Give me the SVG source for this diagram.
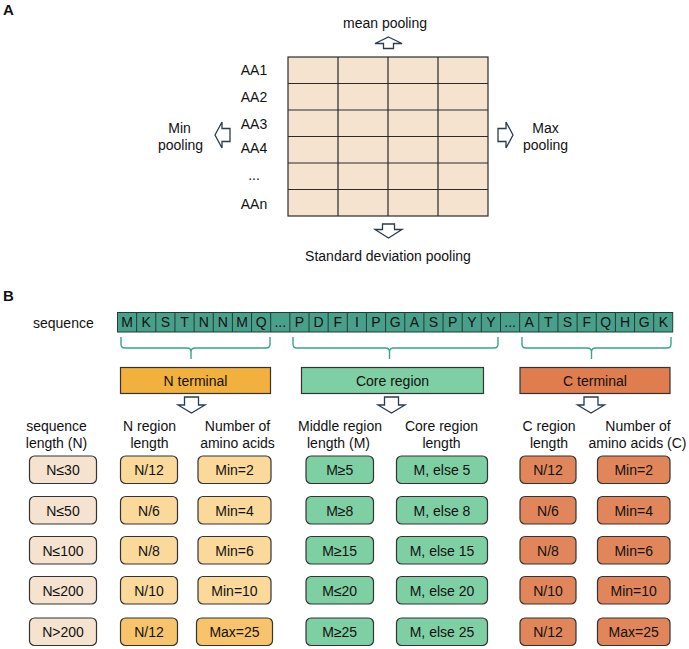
<svg xmlns="http://www.w3.org/2000/svg" xmlns:xlink="http://www.w3.org/1999/xlink" width="689" height="649" viewBox="0 0 689 649">
  <style>
    text { font-family: "Liberation Sans", Arial, sans-serif; font-size: 14px; fill: #111; }
    .panel { font-weight: bold; font-size: 15px; }
    .mid { text-anchor: middle; }
    .grid { fill: #f5e3d0; stroke: #2b2b2b; stroke-width: 1.2; }
    .gline { stroke: #2b2b2b; stroke-width: 1.2; fill: none; }
    .blk { fill: #ffffff; stroke: #2a3b4d; stroke-width: 1.3; stroke-linejoin: miter; }
    .cell { fill: #48a08b; stroke: #1e3d36; stroke-width: 1; }
    .brace { fill: none; stroke: #3aa38a; stroke-width: 1.4; }
    .hdr { stroke: #333; stroke-width: 1.2; }
    .box { stroke: #333; stroke-width: 1.2; }
    .beige { fill: #f5e3d0; }
    .lorange { fill: #fbd99b; }
    .dorange { fill: #f7c46c; }
    .green { fill: #7ecfa3; }
    .coral { fill: #e0865a; }
  </style>
  <defs>
    <!-- hollow block arrow pointing down, centred on x=0 -->
    <polygon id="downArrow" class="blk" points="-7,0 7,0 7,8 13.5,8 0,16 -13.5,8 -7,8"/>
  </defs>

  <!-- Panel A -->
  <text class="panel" x="3" y="15">A</text>

  <g id="embedding-matrix">
    <rect class="grid" x="288" y="57" width="200" height="159"/>
    <path class="gline" d="M338,57V216M388,57V216M438,57V216M288,83.5H488M288,110H488M288,136.5H488M288,163H488M288,189.5H488"/>
  </g>

  <g id="row-labels">
    <text class="mid" x="254" y="75">AA1</text>
    <text class="mid" x="254" y="102">AA2</text>
    <text class="mid" x="254" y="128.5">AA3</text>
    <text class="mid" x="254" y="153">AA4</text>
    <text class="mid" x="254" y="180">...</text>
    <text class="mid" x="254" y="209">AAn</text>
  </g>

  <g id="mean-pooling">
    <text class="mid" x="385" y="27.5">mean pooling</text>
  </g>
  <g id="std-pooling">
    <text class="mid" x="388" y="261">Standard deviation pooling</text>
  </g>
  <g id="min-pooling">
    <text class="mid" x="179.5" y="132.5">Min</text>
    <text class="mid" x="180.5" y="150">pooling</text>
  </g>
  <g id="max-pooling">
    <text class="mid" x="545.5" y="132.5">Max</text>
    <text class="mid" x="545.5" y="150">pooling</text>
  </g>

  <g id="pooling-arrows">
    <polygon class="blk" points="388.5,37 402,43.5 393.5,43.5 393.5,48.5 383.5,48.5 383.5,43.5 375,43.5"/>
    <polygon class="blk" points="382.5,224 394.5,224 394.5,229.5 402,229.5 388.5,238 375,229.5 382.5,229.5"/>
    <polygon class="blk" points="215,135 222,122 222,128.5 230,128.5 230,141.5 222,141.5 222,148"/>
    <polygon class="blk" points="513,135 506,122 506,128.5 498,128.5 498,141.5 506,141.5 506,148"/>
  </g>

  <!-- Panel B -->
  <text class="panel" x="3" y="301">B</text>

  <g id="sequence">
    <text x="33" y="327.5">sequence</text>
    <g id="seq-cells">
      <rect class="cell" x="117.5" y="312.5" width="555.2" height="19.5"/>
      <path class="gline" style="stroke:#1e3d36;stroke-width:1" d="M136.65,312.5v19.5M155.8,312.5v19.5M174.95,312.5v19.5M194.1,312.5v19.5M213.25,312.5v19.5M232.4,312.5v19.5M251.55,312.5v19.5M270.7,312.5v19.5M289.85,312.5v19.5M309,312.5v19.5M328.15,312.5v19.5M347.3,312.5v19.5M366.45,312.5v19.5M385.6,312.5v19.5M404.75,312.5v19.5M423.9,312.5v19.5M443.05,312.5v19.5M462.2,312.5v19.5M481.35,312.5v19.5M500.5,312.5v19.5M519.65,312.5v19.5M538.8,312.5v19.5M557.95,312.5v19.5M577.1,312.5v19.5M596.25,312.5v19.5M615.4,312.5v19.5M634.55,312.5v19.5M653.7,312.5v19.5"/>
    </g>
    <g class="mid">
      <text class="mid" x="127.1" y="327.3">M</text>
      <text class="mid" x="146.2" y="327.3">K</text>
      <text class="mid" x="165.4" y="327.3">S</text>
      <text class="mid" x="184.5" y="327.3">T</text>
      <text class="mid" x="203.7" y="327.3">N</text>
      <text class="mid" x="222.8" y="327.3">N</text>
      <text class="mid" x="242" y="327.3">M</text>
      <text class="mid" x="261.1" y="327.3">Q</text>
      <text class="mid" x="280.3" y="327.3">...</text>
      <text class="mid" x="299.4" y="327.3">P</text>
      <text class="mid" x="318.6" y="327.3">D</text>
      <text class="mid" x="337.7" y="327.3">F</text>
      <text class="mid" x="356.9" y="327.3">I</text>
      <text class="mid" x="376" y="327.3">P</text>
      <text class="mid" x="395.2" y="327.3">G</text>
      <text class="mid" x="414.3" y="327.3">A</text>
      <text class="mid" x="433.5" y="327.3">S</text>
      <text class="mid" x="452.6" y="327.3">P</text>
      <text class="mid" x="471.8" y="327.3">Y</text>
      <text class="mid" x="490.9" y="327.3">Y</text>
      <text class="mid" x="510.1" y="327.3">...</text>
      <text class="mid" x="529.2" y="327.3">A</text>
      <text class="mid" x="548.4" y="327.3">T</text>
      <text class="mid" x="567.5" y="327.3">S</text>
      <text class="mid" x="586.7" y="327.3">F</text>
      <text class="mid" x="605.8" y="327.3">Q</text>
      <text class="mid" x="625" y="327.3">H</text>
      <text class="mid" x="644.1" y="327.3">G</text>
      <text class="mid" x="663.3" y="327.3">K</text>
    </g>
  </g>

  <g id="connectors">
    <path class="brace" d="M121,337V344Q121,348 125,348H187Q191,348 191,352V359M191,352Q191,348 195,348H266Q270,348 270,344V337"/>
    <path class="brace" d="M293,337V344Q293,348 297,348H385.5Q389.5,348 389.5,352V359M389.5,352Q389.5,348 393.5,348H494Q498,348 498,344V337"/>
    <path class="brace" d="M522,337V344Q522,348 526,348H587.5Q591.5,348 591.5,352V359M591.5,352Q591.5,348 595.5,348H667Q671,348 671,344V337"/>
    <use xlink:href="#downArrow" href="#downArrow" x="191.5" y="397"/>
    <use xlink:href="#downArrow" href="#downArrow" x="391.5" y="397"/>
    <use xlink:href="#downArrow" href="#downArrow" x="591" y="397"/>
  </g>

  <g id="n-terminal">
    <rect class="hdr" x="120.5" y="367.5" width="150" height="26" fill="#f2b03c"/>
    <text class="mid" x="195.5" y="385.5">N terminal</text>
  </g>
  <g id="core-region">
    <rect class="hdr" x="301.5" y="367.5" width="182" height="26" fill="#7ecfa3"/>
    <text class="mid" x="392.5" y="385.5">Core region</text>
  </g>
  <g id="c-terminal">
    <rect class="hdr" x="520" y="367.5" width="150" height="26" fill="#df7d4e"/>
    <text class="mid" x="595" y="385.5">C terminal</text>
  </g>

  <g id="column-headers">
    <text class="mid" x="56.5" y="431">sequence</text>
    <text class="mid" x="56.5" y="447.5">length (N)</text>
    <text class="mid" x="149.5" y="431">N region</text>
    <text class="mid" x="149.5" y="447.5">length</text>
    <text class="mid" x="237.5" y="431">Number of</text>
    <text class="mid" x="237.5" y="447.5">amino acids</text>
    <text class="mid" x="340" y="431">Middle region</text>
    <text class="mid" x="338.5" y="447.5">length (M)</text>
    <text class="mid" x="441.5" y="431">Core region</text>
    <text class="mid" x="441.5" y="447.5">length</text>
    <text class="mid" x="549" y="431">C region</text>
    <text class="mid" x="549" y="447.5">length</text>
    <text class="mid" x="638" y="431">Number of</text>
    <text class="mid" x="637.5" y="447.5">amino acids (C)</text>
  </g>

  <!-- sequence length thresholds -->
  <g id="seq-length">
    <rect class="box beige" x="29.5" y="456" width="67" height="27.5" rx="5"/>
    <rect class="box beige" x="29.5" y="496.5" width="67" height="27.5" rx="5"/>
    <rect class="box beige" x="29.5" y="536.5" width="67" height="27.5" rx="5"/>
    <rect class="box beige" x="29.5" y="576.5" width="67" height="27.5" rx="5"/>
    <rect class="box beige" x="29.5" y="618" width="67" height="27.5" rx="5"/>
    <text class="mid" x="63" y="475">N≤30</text>
    <text class="mid" x="63" y="515.5">N≤50</text>
    <text class="mid" x="63" y="555.5">N≤100</text>
    <text class="mid" x="63" y="595.5">N≤200</text>
    <text class="mid" x="63" y="637">N&gt;200</text>
  </g>

  <g id="n-region-length">
    <rect class="box lorange" x="120.5" y="456" width="57" height="27.5" rx="5"/>
    <rect class="box lorange" x="120.5" y="496.5" width="57" height="27.5" rx="5"/>
    <rect class="box lorange" x="120.5" y="536.5" width="57" height="27.5" rx="5"/>
    <rect class="box lorange" x="120.5" y="576.5" width="57" height="27.5" rx="5"/>
    <rect class="box dorange" x="120.5" y="618" width="57" height="27.5" rx="5"/>
    <text class="mid" x="149" y="475">N/12</text>
    <text class="mid" x="149" y="515.5">N/6</text>
    <text class="mid" x="149" y="555.5">N/8</text>
    <text class="mid" x="149" y="595.5">N/10</text>
    <text class="mid" x="149" y="637">N/12</text>
  </g>

  <g id="n-amino-acids">
    <rect class="box lorange" x="198" y="456" width="73" height="27.5" rx="5"/>
    <rect class="box lorange" x="198" y="496.5" width="73" height="27.5" rx="5"/>
    <rect class="box lorange" x="198" y="536.5" width="73" height="27.5" rx="5"/>
    <rect class="box lorange" x="198" y="576.5" width="73" height="27.5" rx="5"/>
    <rect class="box dorange" x="196.5" y="618" width="76" height="27.5" rx="5"/>
    <text class="mid" x="234.5" y="475">Min=2</text>
    <text class="mid" x="234.5" y="515.5">Min=4</text>
    <text class="mid" x="234.5" y="555.5">Min=6</text>
    <text class="mid" x="234.5" y="595.5">Min=10</text>
    <text class="mid" x="234.5" y="637">Max=25</text>
  </g>

  <g id="middle-region-length">
    <rect class="box green" x="306" y="456" width="67.5" height="27.5" rx="5"/>
    <rect class="box green" x="306" y="496.5" width="67.5" height="27.5" rx="5"/>
    <rect class="box green" x="306" y="536.5" width="67.5" height="27.5" rx="5"/>
    <rect class="box green" x="306" y="576.5" width="67.5" height="27.5" rx="5"/>
    <rect class="box green" x="306" y="618" width="67.5" height="27.5" rx="5"/>
    <text class="mid" x="339.7" y="475">M≥5</text>
    <text class="mid" x="339.7" y="515.5">M≥8</text>
    <text class="mid" x="339.7" y="555.5">M≥15</text>
    <text class="mid" x="339.7" y="595.5">M≤20</text>
    <text class="mid" x="339.7" y="637">M≥25</text>
  </g>

  <g id="core-region-length">
    <rect class="box green" x="396.5" y="456" width="91" height="27.5" rx="5"/>
    <rect class="box green" x="396.5" y="496.5" width="91" height="27.5" rx="5"/>
    <rect class="box green" x="396.5" y="536.5" width="91" height="27.5" rx="5"/>
    <rect class="box green" x="396.5" y="576.5" width="91" height="27.5" rx="5"/>
    <rect class="box green" x="396.5" y="618" width="91" height="27.5" rx="5"/>
    <text class="mid" x="442" y="475">M, else 5</text>
    <text class="mid" x="442" y="515.5">M, else 8</text>
    <text class="mid" x="442" y="555.5">M, else 15</text>
    <text class="mid" x="442" y="595.5">M, else 20</text>
    <text class="mid" x="442" y="637">M, else 25</text>
  </g>

  <g id="c-region-length">
    <rect class="box coral" x="520" y="456" width="56" height="27.5" rx="5"/>
    <rect class="box coral" x="520" y="496.5" width="56" height="27.5" rx="5"/>
    <rect class="box coral" x="520" y="536.5" width="56" height="27.5" rx="5"/>
    <rect class="box coral" x="520" y="576.5" width="56" height="27.5" rx="5"/>
    <rect class="box coral" x="520" y="618" width="56" height="27.5" rx="5"/>
    <text class="mid" x="548" y="475">N/12</text>
    <text class="mid" x="548" y="515.5">N/6</text>
    <text class="mid" x="548" y="555.5">N/8</text>
    <text class="mid" x="548" y="595.5">N/10</text>
    <text class="mid" x="548" y="637">N/12</text>
  </g>

  <g id="c-amino-acids">
    <rect class="box coral" x="597.5" y="456" width="72.5" height="27.5" rx="5"/>
    <rect class="box coral" x="597.5" y="496.5" width="72.5" height="27.5" rx="5"/>
    <rect class="box coral" x="597.5" y="536.5" width="72.5" height="27.5" rx="5"/>
    <rect class="box coral" x="597.5" y="576.5" width="72.5" height="27.5" rx="5"/>
    <rect class="box coral" x="597.5" y="618" width="72.5" height="27.5" rx="5"/>
    <text class="mid" x="633.7" y="475">Min=2</text>
    <text class="mid" x="633.7" y="515.5">Min=4</text>
    <text class="mid" x="633.7" y="555.5">Min=6</text>
    <text class="mid" x="633.7" y="595.5">Min=10</text>
    <text class="mid" x="633.7" y="637">Max=25</text>
  </g>
</svg>
